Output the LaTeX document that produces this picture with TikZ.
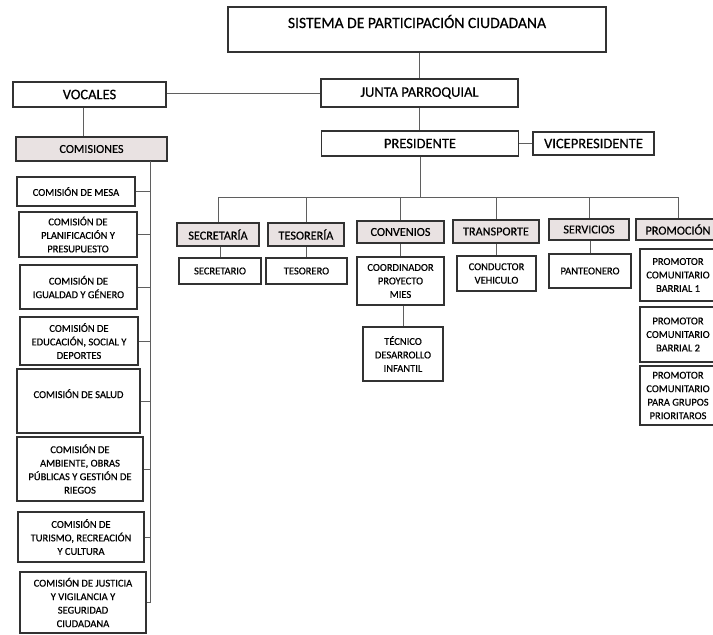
\documentclass[tikz,border=0pt]{standalone}
\usepackage{fontspec}
\setmainfont{Carlito}[BoldFont=Carlito, BoldFeatures={FakeBold=0.5}]
\usepackage{tikz}
\usetikzlibrary{calc}

\definecolor{cabecera}{RGB}{233,226,226}
\definecolor{trazo}{RGB}{50,50,50}
\definecolor{linea}{RGB}{95,95,95}

\tikzset{
	mayor/.style={draw=trazo, line width=1.1pt, inner sep=1pt, font=\fontsize{14.5}{16}\selectfont\bfseries},
	cabeza/.style={draw=trazo, line width=1.1pt, fill=cabecera, inner sep=1pt, font=\fontsize{12.2}{14}\selectfont\bfseries},
	menor/.style={draw=trazo, line width=1.1pt, inner sep=1pt, align=center, font=\fontsize{10.5}{13.5}\selectfont\bfseries},
	enlace/.style={draw=linea, line width=0.9pt}
}

\begin{document}
\begin{tikzpicture}[x=1pt, y=-1pt]
		\useasboundingbox (0,0) rectangle (713,635);
		\clip (0,0) rectangle (713,635);
		% nivel superior
		\node[mayor, anchor=base, minimum width=378pt, text height=21pt, text depth=24pt, inner ysep=0pt, font=\fontsize{15.6}{17}\selectfont\bfseries] (sistema) at (417,28) {SISTEMA DE PARTICIPACIÓN CIUDADANA};
		\node[mayor, minimum width=197pt, minimum height=28pt] (junta) at (419.5,93) {JUNTA PARROQUIAL};
		\node[mayor, minimum width=153pt, minimum height=25pt] (vocales) at (89.5,94.5) {VOCALES};
		\node[mayor, minimum width=197pt, minimum height=25pt] (presidente) at (420,143.5) {PRESIDENTE};
		\node[mayor, minimum width=121pt, minimum height=23pt] (vice) at (593.5,143.5) {VICEPRESIDENTE};
		% cabeceras
		\node[cabeza, minimum width=151pt, minimum height=24pt] (comisiones) at (91.5,149) {COMISIONES};
		\node[cabeza, minimum width=82pt, minimum height=23pt] (secretaria) at (218,234.5) {SECRETARÍA};
		\node[cabeza, minimum width=76pt, minimum height=23pt] (tesoreria) at (306,234.5) {TESORERÍA};
		\node[cabeza, minimum width=87pt, minimum height=22pt] (convenios) at (400.5,232) {CONVENIOS};
		\node[cabeza, minimum width=86pt, minimum height=23pt] (transporte) at (496,231.5) {TRANSPORTE};
		\node[cabeza, minimum width=80pt, minimum height=21pt] (servicios) at (589,229.5) {SERVICIOS};
		\node[cabeza, minimum width=84pt, minimum height=21pt] (promocion) at (678,229.5) {PROMOCIÓN};
		% cargos
		\node[menor, minimum width=82pt, minimum height=26pt] (secretario) at (220,271) {SECRETARIO};
		\node[menor, minimum width=81pt, minimum height=26pt] (tesorero) at (306.5,271) {TESORERO};
		\node[menor, minimum width=87pt, minimum height=48pt] (coordinador) at (400.5,281) {COORDINADOR\\PROYECTO\\MIES};
		\node[menor, minimum width=80pt, minimum height=54pt] (tecnico) at (403,354) {TÉCNICO\\DESARROLLO\\INFANTIL};
		\node[menor, minimum width=79pt, minimum height=35pt] (conductor) at (496.5,273.5) {CONDUCTOR\\VEHICULO};
		\node[menor, minimum width=82pt, minimum height=34pt] (panteonero) at (590,271) {PANTEONERO};
		\node[menor, minimum width=76pt, minimum height=52pt] (promotorA) at (678,275) {PROMOTOR\\COMUNITARIO\\BARRIAL 1};
		\node[menor, minimum width=76pt, minimum height=55pt] (promotorB) at (678,334.5) {PROMOTOR\\COMUNITARIO\\BARRIAL 2};
		\node[menor, minimum width=76pt, minimum height=59pt] (promotorC) at (678,395.5) {PROMOTOR\\COMUNITARIO\\PARA GRUPOS\\PRIORITAROS};
		% comisiones
		\node[menor, minimum width=118pt, minimum height=29pt] (com1) at (76,191.5) {COMISIÓN DE MESA};
		\node[menor, minimum width=118pt, minimum height=45pt] (com2) at (78,234.5) {COMISIÓN DE\\PLANIFICACIÓN Y\\PRESUPUESTO};
		\node[menor, minimum width=117pt, minimum height=44pt] (com3) at (78.5,287) {COMISIÓN DE\\IGUALDAD Y GÉNERO};
		\node[menor, minimum width=118pt, minimum height=48pt] (com4) at (79,341) {COMISIÓN DE\\EDUCACIÓN, SOCIAL Y\\DEPORTES};
		\node[menor, anchor=base, minimum width=123pt, text height=29pt, text depth=35pt, inner ysep=0pt] (com5) at (78.5,398) {COMISIÓN DE SALUD};
		\node[menor, minimum width=126pt, minimum height=64pt] (com6) at (80,469) {COMISIÓN DE\\AMBIENTE, OBRAS\\PÚBLICAS Y GESTIÓN DE\\RIEGOS};
		\node[menor, minimum width=126pt, minimum height=50pt] (com7) at (81,537) {COMISIÓN DE\\TURISMO, RECREACIÓN\\Y CULTURA};
		\node[menor, minimum width=126pt, minimum height=61pt] (com8) at (83,602.5) {COMISIÓN DE JUSTICIA\\Y VIGILANCIA Y\\SEGURIDAD\\CIUDADANA};
		% enlaces
		\coordinate (bus) at (421,197);
		\coordinate (barra) at (150,161);
		\draw[enlace] (junta.north) -- (junta.north |- sistema.south);
		\draw[enlace] (junta.west) -- (junta.west -| vocales.east);
		\draw[enlace] (junta.south) -- (junta.south |- presidente.north);
		\draw[enlace] (presidente) -- (vice);
		\draw[enlace] (presidente.south) -- (presidente.south |- bus);
		\foreach \n in {secretaria,tesoreria,convenios,transporte,servicios,promocion}
			\draw[enlace] (presidente.south |- bus) -| (\n.north);
		\foreach \a/\b in {secretaria/secretario,tesoreria/tesorero,convenios/coordinador,coordinador/tecnico,transporte/conductor,servicios/panteonero}
			\draw[enlace] (\b.north) -- (\b.north |- \a.south);
		%\draw[enlace] (vocales) -- (comisiones);
		\draw[enlace] ([xshift=-6pt]vocales.south) -- ([xshift=-6pt]vocales.south |- comisiones.north);
		\draw[enlace] (barra) -- (barra |- com8.east) -- (com8.east);
		\foreach \c in {com1,com2,com3,com4,com5,com6,com7}
			\draw[enlace] (\c.east) -- (\c.east -| barra);
\end{tikzpicture}
\end{document}
